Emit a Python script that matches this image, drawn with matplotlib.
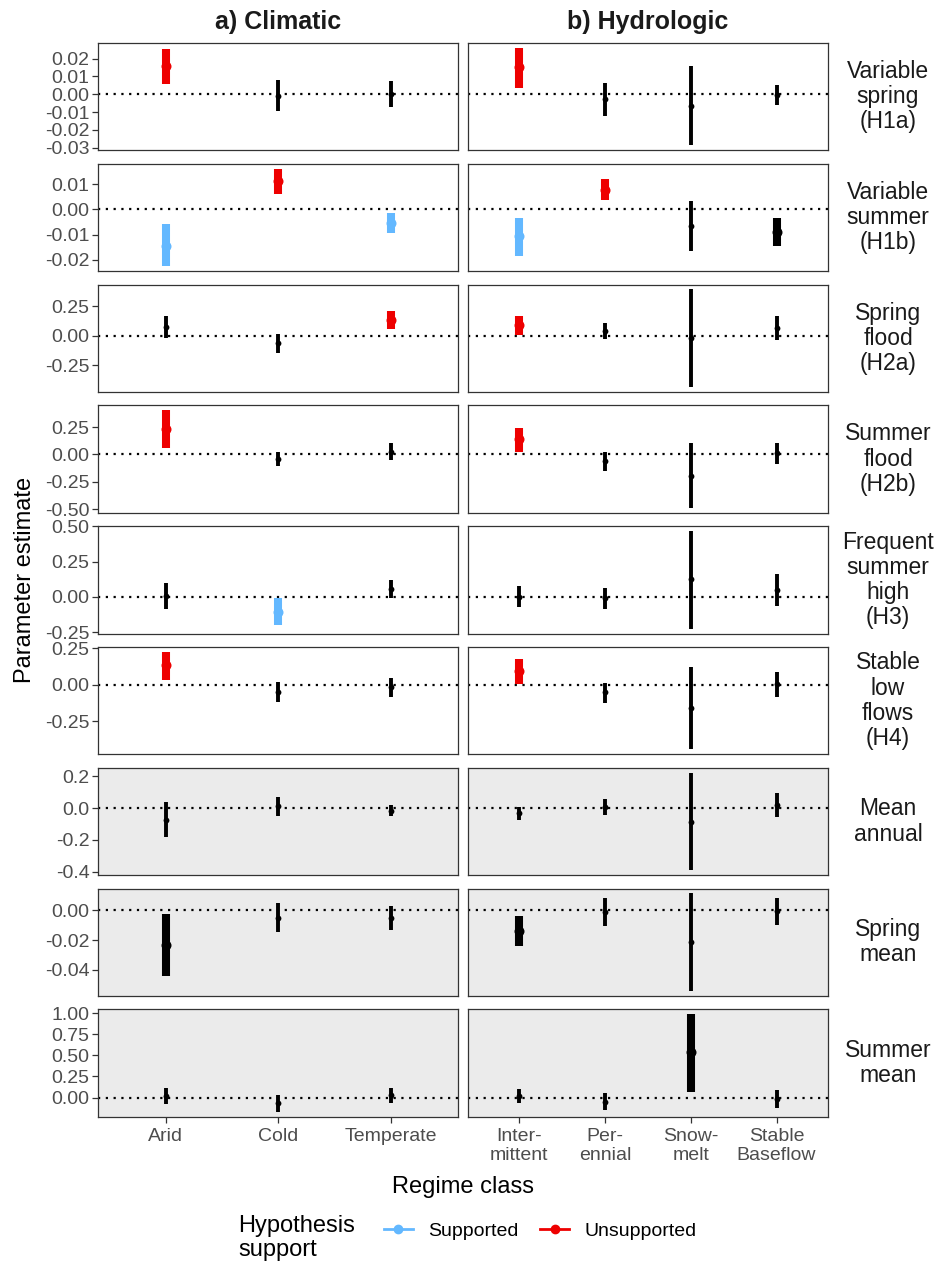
import matplotlib.pyplot as plt
from matplotlib.lines import Line2D
import numpy as np

plt.rcParams['font.family'] = ['Liberation Sans', 'DejaVu Sans']

# facet rows (response metrics)
rows = ["Variable\nspring\n(H1a)", "Variable\nsummer\n(H1b)", "Spring\nflood\n(H2a)",
        "Summer\nflood\n(H2b)", "Frequent\nsummer\nhigh\n(H3)", "Stable\nlow\nflows\n(H4)",
        "Mean\nannual", "Spring\nmean", "Summer\nmean"]
shaded = [False, False, False, False, False, False, True, True, True]

clim_cats = ["Arid", "Cold", "Temperate"]
hydro_cats = ["Inter-\nmittent", "Per-\nennial", "Snow-\nmelt", "Stable\nBaseflow"]

# climatic classes: estimate, lower, upper, support (U unsupported, S supported, N none)
clim_est = [[0.0156, -0.0011, 0.0000], [-0.0144, 0.0111, -0.0055], [0.076, -0.064, 0.138],
            [0.236, -0.042, 0.027], [0.005, -0.105, 0.056], [0.134, -0.050, -0.014],
            [-0.072, 0.014, -0.015], [-0.0235, -0.0049, -0.0049], [0.024, -0.063, 0.027]]
clim_lo = [[0.0056, -0.0094, -0.0072], [-0.0225, 0.0060, -0.0094], [-0.017, -0.143, 0.059],
           [0.061, -0.109, -0.048], [-0.086, -0.203, -0.007], [0.032, -0.120, -0.086],
           [-0.182, -0.050, -0.052], [-0.0442, -0.0147, -0.0129], [-0.074, -0.169, -0.059]]
clim_hi = [[0.0255, 0.0078, 0.0072], [-0.0059, 0.0161, -0.0016], [0.171, 0.014, 0.207],
           [0.405, 0.024, 0.103], [0.098, -0.005, 0.117], [0.225, 0.018, 0.048],
           [0.037, 0.072, 0.020], [-0.0025, 0.0053, 0.0029], [0.118, 0.035, 0.110]]
clim_sup = [["U", "N", "N"], ["S", "U", "S"], ["N", "N", "U"], ["U", "N", "N"],
            ["N", "S", "N"], ["U", "N", "N"], ["N", "N", "N"], ["N", "N", "N"], ["N", "N", "N"]]

# hydrologic classes
hydro_est = [[0.0152, -0.0028, -0.0068, -0.0002], [-0.0105, 0.0076, -0.0067, -0.0089],
             [0.090, 0.045, -0.022, 0.070], [0.139, -0.057, -0.199, 0.018],
             [0.002, -0.007, 0.124, 0.047], [0.093, -0.052, -0.163, 0.005],
             [-0.031, 0.010, -0.089, 0.020], [-0.0138, -0.0009, -0.0213, -0.0002],
             [0.024, -0.051, 0.539, -0.012]]
hydro_lo = [[0.0037, -0.0122, -0.0287, -0.0059], [-0.0183, 0.0036, -0.0166, -0.0144],
            [0.003, -0.030, -0.433, -0.039], [0.024, -0.150, -0.489, -0.084],
            [-0.075, -0.084, -0.226, -0.068], [0.007, -0.123, -0.445, -0.086],
            [-0.077, -0.043, -0.390, -0.058], [-0.0238, -0.0107, -0.0545, -0.0100],
            [-0.063, -0.142, 0.067, -0.121]]
hydro_hi = [[0.0260, 0.0061, 0.0156, 0.0050], [-0.0035, 0.0119, 0.0033, -0.0035],
            [0.165, 0.109, 0.392, 0.165], [0.239, 0.027, 0.109, 0.109],
            [0.077, 0.065, 0.467, 0.161], [0.175, 0.014, 0.121, 0.087],
            [0.010, 0.058, 0.223, 0.093], [-0.0040, 0.0082, 0.0115, 0.0085],
            [0.106, 0.051, 0.987, 0.091]]
hydro_sup = [["U", "N", "N", "N"], ["S", "U", "N", "N"], ["U", "N", "N", "N"],
             ["U", "N", "N", "N"], ["N", "N", "N", "N"], ["U", "N", "N", "N"],
             ["N", "N", "N", "N"], ["N", "N", "N", "N"], ["N", "N", "N", "N"]]

# y breaks per row
y_breaks = [[-0.03, -0.02, -0.01, 0.00, 0.01, 0.02], [-0.02, -0.01, 0.00, 0.01],
            [-0.25, 0.00, 0.25], [-0.50, -0.25, 0.00, 0.25], [-0.25, 0.00, 0.25, 0.50],
            [-0.25, 0.00, 0.25], [-0.4, -0.2, 0.0, 0.2], [-0.04, -0.02, 0.00],
            [0.00, 0.25, 0.50, 0.75, 1.00]]
y_dec = [2, 2, 2, 2, 2, 2, 1, 2, 2]

colors = {"U": "#EE0000", "S": "#63B8FF", "N": "black"}

W, H = 940, 1262
fig = plt.figure(figsize=(W / 100, H / 100), dpi=100)

col_x = [(98, 360), (468, 360)]
row_top0, row_step, row_h = 43, 120.8, 107.3


def draw_cell(ax, cats, est, lo, hi, sup):
    x = np.arange(1, len(cats) + 1)
    est, lo, hi = np.array(est), np.array(lo), np.array(hi)
    sig = (lo > 0) | (hi < 0)
    ax.axhline(0, color="black", lw=1.6, ls=(0, (1, 2.5)), zorder=1)
    for i in range(len(cats)):
        c = colors[sup[i]]
        lw = 5.8 if sig[i] else 2.8
        ms = 7.2 if sig[i] else 4.2
        ax.vlines(x[i], lo[i], hi[i], color=c, lw=lw, capstyle="butt", zorder=2)
        ax.plot(x[i], est[i], "o", color=c, ms=ms, mew=0, zorder=3)
    ax.set_xlim(0.4, len(cats) + 0.6)


for r in range(len(rows)):
    top = row_top0 + r * row_step
    all_lo = min(min(clim_lo[r]), min(hydro_lo[r]))
    all_hi = max(max(clim_hi[r]), max(hydro_hi[r]))
    pad = 0.05 * (all_hi - all_lo)
    for c in range(2):
        x0, w = col_x[c]
        ax = fig.add_axes([x0 / W, 1 - (top + row_h) / H, w / W, row_h / H])
        if c == 0:
            draw_cell(ax, clim_cats, clim_est[r], clim_lo[r], clim_hi[r], clim_sup[r])
            cats = clim_cats
        else:
            draw_cell(ax, hydro_cats, hydro_est[r], hydro_lo[r], hydro_hi[r], hydro_sup[r])
            cats = hydro_cats
        ax.set_ylim(all_lo - pad, all_hi + pad)
        ax.set_facecolor("#EBEBEB" if shaded[r] else "white")
        for s in ax.spines.values():
            s.set_color("#333333")
            s.set_linewidth(0.9)
        ax.tick_params(colors="#333333", labelcolor="#4D4D4D", labelsize=14,
                       length=4, width=0.9, pad=2)
        if c == 0:
            ax.set_yticks(y_breaks[r])
            ax.set_yticklabels([f"{v:.{y_dec[r]}f}".replace("-0.00", "0.00") for v in y_breaks[r]])
        else:
            ax.set_yticks([])
            ax.text(1.0 + 60 / 360, 0.5, rows[r], transform=ax.transAxes, ha="center",
                    va="center", fontsize=16.5, linespacing=1.12, color="#1A1A1A")
        if r == len(rows) - 1:
            ax.set_xticks(np.arange(1, len(cats) + 1))
            ax.set_xticklabels(cats, linespacing=1.15, fontsize=14)
            ax.tick_params(axis="x", pad=4)
        else:
            ax.set_xticks([])

fig.text(278 / W, 1 - 22 / H, "a) Climatic", ha="center", va="center",
         fontsize=18, fontweight="bold", color="#1A1A1A")
fig.text(648 / W, 1 - 22 / H, "b) Hydrologic", ha="center", va="center",
         fontsize=18, fontweight="bold", color="#1A1A1A")
fig.text(463 / W, 1 - 1187 / H, "Regime class", ha="center", va="center", fontsize=17)
fig.text(25 / W, 1 - 580 / H, "Parameter estimate", ha="center", va="center",
         rotation=90, fontsize=17)

# legend
fig.text(238 / W, 1 - 1238 / H, "Hypothesis\nsupport", ha="left", va="center",
         fontsize=17, linespacing=1.1)
handles = [Line2D([], [], color=colors["S"], lw=2, marker="o", ms=6),
           Line2D([], [], color=colors["U"], lw=2, marker="o", ms=6)]
fig.legend(handles, ["Supported", "Unsupported"], ncol=2, loc="center left",
           bbox_to_anchor=(366 / W, 1 - 1231 / H), frameon=False, fontsize=14,
           handlelength=1.5, columnspacing=1.1, handletextpad=0.8)

fig.savefig("out.png", dpi=100)
